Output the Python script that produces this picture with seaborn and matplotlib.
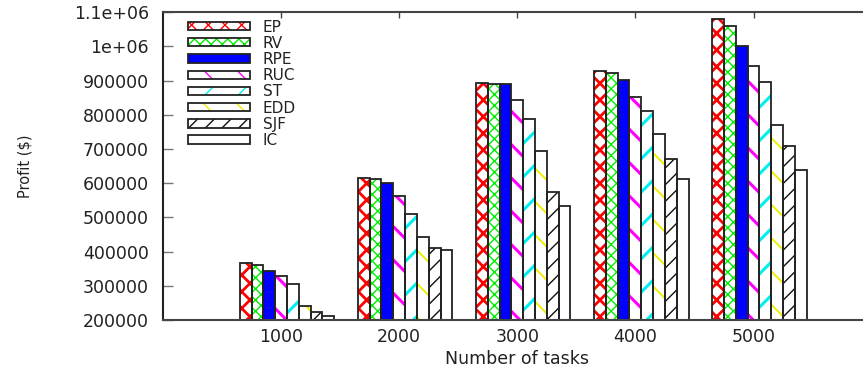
import numpy as np
import pandas as pd
import matplotlib
matplotlib.use("Agg")
import matplotlib.pyplot as plt
from matplotlib.patches import Patch
import seaborn as sns

# ---- data ----
tasks = ["1000", "2000", "3000", "4000", "5000"]
methods = ["EP", "RV", "RPE", "RUC", "ST", "EDD", "SJF", "IC"]
EP = [368000, 614000, 892000, 928000, 1079000]
RV = [360000, 611000, 891000, 921000, 1061000]
RPE = [342000, 600000, 890000, 903000, 1000000]
RUC = [330000, 563000, 843000, 853000, 944000]
ST = [305000, 510000, 789000, 810000, 897000]
EDD = [242000, 443000, 693000, 743000, 770000]
SJF = [222000, 410000, 573000, 671000, 710000]
IC = [211000, 404000, 534000, 613000, 640000]
yticks = [200000, 300000, 400000, 500000, 600000, 700000, 800000, 900000, 1000000, 1100000]
ytick_labels = ["200000", "300000", "400000", "500000", "600000", "700000",
                "800000", "900000", "1e+06", "1.1e+06"]

series = [EP, RV, RPE, RUC, ST, EDD, SJF, IC]
rows = []
for m, vals in zip(methods, series):
    for t, v in zip(tasks, vals):
        rows.append({"tasks": t, "method": m, "profit": v})
df = pd.DataFrame(rows)

# styles
hatch_color = ["#ff0000", "#00ee00", "#0000ff", "#ff00ff", "#00f0f0", "#eeee00", "#111111", "#ffffff"]
face_color = ["white", "white", "#0000ff", "white", "white", "white", "white", "white"]
hatches = ["xx", "xxx", "", "\\", "/", "\\", "//", ""]
hatch_lw = [2.0, 1.0, 1.0, 2.2, 2.2, 1.4, 1.0, 1.0]
outline = "#222222"

sns.set_style("white")
plt.rcParams["font.family"] = ["DejaVu Sans"]

fig = plt.figure(figsize=(8.63, 3.72), dpi=100)
ax = fig.add_axes([163 / 863, 1 - 320 / 372, (871.6 - 163) / 863, (320 - 12.3) / 372])

# hatched fill layer
sns.barplot(data=df, x="tasks", y="profit", hue="method", hue_order=methods,
            order=tasks, palette=["#cccccc"] * 8, width=0.8, dodge=True,
            errorbar=None, legend=False, ax=ax)
fill_containers = list(ax.containers)
for i, cont in enumerate(fill_containers):
    for p in cont:
        p.set_facecolor(face_color[i])
        p.set_edgecolor(hatch_color[i])
        p.set_linewidth(0)
        p.set_hatch(hatches[i])
        if hasattr(p, "set_hatch_linewidth"):
            p.set_hatch_linewidth(hatch_lw[i])
        else:
            p._hatch_linewidth = hatch_lw[i]

# outline layer
sns.barplot(data=df, x="tasks", y="profit", hue="method", hue_order=methods,
            order=tasks, palette=["#222222"] * 8, width=0.8, dodge=True,
            errorbar=None, legend=False, fill=False, linewidth=1.3, ax=ax)
for cont in ax.containers[len(fill_containers):]:
    for p in cont:
        p.set_facecolor("none")
        p.set_edgecolor(outline)
        p.set_linewidth(1.3)

ax.set_xlim(-1.05, 4.95)
ax.set_ylim(200000, 1100000)
ax.set_xticks(np.arange(len(tasks)) - 0.05)
ax.set_xticklabels(tasks)
ax.set_yticks(yticks)
ax.set_yticklabels(ytick_labels)
ax.set_axisbelow(True)

for s in ["top", "bottom", "left", "right"]:
    ax.spines[s].set_visible(True)
    ax.spines[s].set_color("#444444")
    ax.spines[s].set_linewidth(1.5)
ax.spines["left"].set_color("#222222")

ax.tick_params(axis="y", direction="in", length=7.2, width=1, color="#777777",
               labelsize=12.5, labelcolor="#222222", pad=10, left=True, right=False)
ax.tick_params(axis="x", direction="in", length=4.3, width=1, color="#444444",
               labelsize=12.5, labelcolor="#222222", pad=6, top=True, bottom=True)

ax.set_xlabel("Number of tasks", fontsize=12.5, color="#222222", labelpad=3)
ax.set_ylabel("Profit ($)", fontsize=10.5, color="#222222")
ax.yaxis.set_label_coords((32 - 163) / (871.6 - 163), 0.5)

# legend
handles = []
for i in range(len(methods)):
    hp = Patch(facecolor=face_color[i], edgecolor=hatch_color[i], linewidth=0, hatch=hatches[i])
    if hasattr(hp, "set_hatch_linewidth"):
        hp.set_hatch_linewidth(hatch_lw[i])
    else:
        hp._hatch_linewidth = hatch_lw[i]
    op = Patch(facecolor="none", edgecolor=outline, linewidth=1.3)
    handles.append((hp, op))
leg = ax.legend(handles, methods, loc="upper left",
                bbox_to_anchor=(188 / 863, 1 - 19.5 / 372), bbox_transform=fig.transFigure,
                frameon=False, fontsize=11, handlelength=4.05, handleheight=0.46,
                handletextpad=0.85, labelspacing=0.08, borderpad=0, borderaxespad=0)
for t in leg.get_texts():
    t.set_color("#222222")

fig.savefig("out.png", dpi=100)
